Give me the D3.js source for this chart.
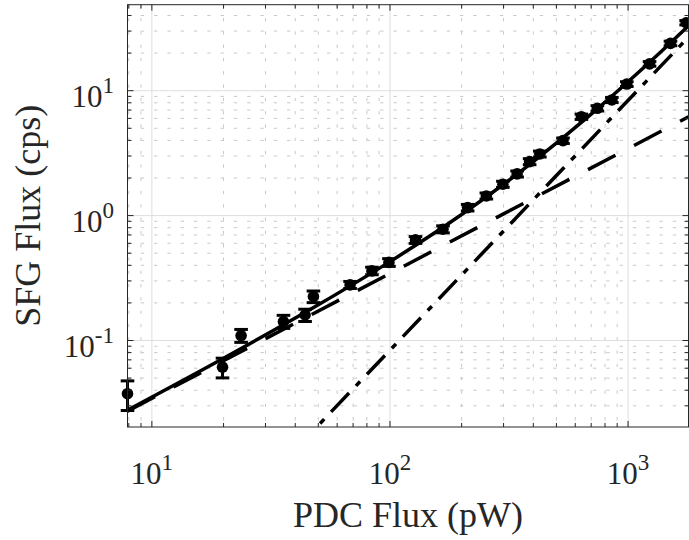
<!DOCTYPE html>
<html>
<head>
<meta charset="utf-8">
<script src="https://cdn.jsdelivr.net/npm/d3@7"></script>
<style>
  html, body { margin: 0; padding: 0; background: #fff; }
  svg { display: block; }
  text { font-family: "Liberation Serif", "Times New Roman", serif; fill: #262626; }
</style>
</head>
<body>
<svg id="chart" width="689" height="540"></svg>
<script>
// ---- data ----
const pdcFlux = [7.9, 19.8, 23.7, 35.7, 44, 47.7, 68, 84, 99, 128, 167, 212, 254, 298, 342, 386, 426, 533, 637, 743, 855, 988, 1231, 1507, 1754];
const sfgFlux = [0.0375, 0.0612, 0.1096, 0.142, 0.160, 0.225, 0.279, 0.361, 0.422, 0.639, 0.778, 1.159, 1.437, 1.783, 2.156, 2.704, 3.115, 3.98, 6.19, 7.23, 8.43, 11.3, 16.4, 23.9, 35.0];
const sfgError = [0.010, 0.011, 0.013, 0.017, 0.018, 0.024, 0.018, 0.025, 0.03, 0.04, 0.05, 0.07, 0.08, 0.10, 0.12, 0.15, 0.17, 0.2, 0.3, 0.35, 0.4, 0.5, 0.7, 1.0, 1.4];

const fitX = [7.9, 20, 50, 100, 200, 400, 700, 1000, 1400, 1794];
const fitY = [0.0277, 0.0721, 0.193, 0.428, 1.02, 2.71, 6.50, 11.8, 21.2, 33.1];
// linear component (long dashes): endpoints
const linX = [7.9, 1794];
const linY = [0.0272, 6.17];
// quadratic component (dash-dot): endpoints
const quadX = [40, 1794];
const quadY = [0.0134, 26.9];

const xTicksMajor = [10, 100, 1000];
const xTickExp = ["1", "2", "3"];
const yTicksMajor = [0.1, 1, 10];
const yTickExp = ["-1", "0", "1"];

const xDomain = [7.9, 1794];
const yDomain = [0.0203, 48.8];

// ---- layout ----
const svg = d3.select("#chart");
const L = 127.5, R = 688.5, T = 4.7, B = 427;
const x = d3.scaleLog().domain(xDomain).range([L, R]);
const y = d3.scaleLog().domain(yDomain).range([B, T]);

function minorTicks(domain) {
  const out = [];
  const lo = Math.floor(Math.log10(domain[0])), hi = Math.ceil(Math.log10(domain[1]));
  for (let e = lo; e <= hi; e++) {
    for (let m = 2; m <= 9; m++) {
      const v = m * Math.pow(10, e);
      if (v >= domain[0] && v <= domain[1]) out.push(v);
    }
  }
  return out;
}
const xMinor = minorTicks(xDomain);
const yMinor = minorTicks(yDomain);

// grid
const grid = svg.append("g");
grid.selectAll(".xmin").data(xMinor).enter().append("line")
  .attr("x1", d => x(d)).attr("x2", d => x(d)).attr("y1", T).attr("y2", B)
  .attr("stroke", "#c8c8c8").attr("stroke-width", 1).attr("stroke-dasharray", "3.3,10");
grid.selectAll(".ymin").data(yMinor).enter().append("line")
  .attr("x1", L).attr("x2", R).attr("y1", d => y(d)).attr("y2", d => y(d))
  .attr("stroke", "#c8c8c8").attr("stroke-width", 1).attr("stroke-dasharray", "3.3,10");
grid.selectAll(".xmaj").data(xTicksMajor).enter().append("line")
  .attr("x1", d => x(d)).attr("x2", d => x(d)).attr("y1", T).attr("y2", B)
  .attr("stroke", "#dedede").attr("stroke-width", 1);
grid.selectAll(".ymaj").data(yTicksMajor).enter().append("line")
  .attr("x1", L).attr("x2", R).attr("y1", d => y(d)).attr("y2", d => y(d))
  .attr("stroke", "#dedede").attr("stroke-width", 1);

// clip
svg.append("clipPath").attr("id", "clip").append("rect")
  .attr("x", L).attr("y", T).attr("width", R - L).attr("height", B - T);

const plot = svg.append("g").attr("clip-path", "url(#clip)");

const lineGen = d3.line().x(d => x(d[0])).y(d => y(d[1]));
const curveGen = d3.line().x(d => x(d[0])).y(d => y(d[1])).curve(d3.curveMonotoneX);

plot.append("path").datum(quadX.map((v, i) => [v, quadY[i]]))
  .attr("d", lineGen).attr("fill", "none").attr("stroke", "#000")
  .attr("stroke-width", 3.5).attr("stroke-dasharray", "26,10,6,10");
plot.append("path").datum(linX.map((v, i) => [v, linY[i]]))
  .attr("d", lineGen).attr("fill", "none").attr("stroke", "#000")
  .attr("stroke-width", 3.5).attr("stroke-dasharray", "31,21");
plot.append("path").datum(fitX.map((v, i) => [v, fitY[i]]))
  .attr("d", curveGen).attr("fill", "none").attr("stroke", "#000")
  .attr("stroke-width", 3.5);

// error bars + markers (not clipped)
const pts = pdcFlux.map((v, i) => ({ x: v, y: sfgFlux[i], e: sfgError[i] }));
const eb = svg.append("g");
const capW = 6.8;
pts.forEach(p => {
  const xp = x(p.x), y1 = y(p.y + p.e), y0 = y(p.y - p.e);
  eb.append("line").attr("x1", xp).attr("x2", xp).attr("y1", y1).attr("y2", y0)
    .attr("stroke", "#000").attr("stroke-width", 3);
  eb.append("line").attr("x1", xp - capW).attr("x2", xp + capW).attr("y1", y1).attr("y2", y1)
    .attr("stroke", "#000").attr("stroke-width", 3);
  eb.append("line").attr("x1", xp - capW).attr("x2", xp + capW).attr("y1", y0).attr("y2", y0)
    .attr("stroke", "#000").attr("stroke-width", 3);
});
svg.append("g").selectAll("circle").data(pts).enter().append("circle")
  .attr("cx", d => x(d.x)).attr("cy", d => y(d.y)).attr("r", 5.8).attr("fill", "#000");

// axes box and ticks
const axc = "#262626";
const axes = svg.append("g");
axes.append("rect").attr("x", L).attr("y", T).attr("width", R - L).attr("height", B - T)
  .attr("fill", "none").attr("stroke", axc).attr("stroke-width", 1);
const majLen = 6, minLen = 4;
function xTick(v, len) {
  axes.append("line").attr("x1", x(v)).attr("x2", x(v)).attr("y1", B).attr("y2", B - len).attr("stroke", axc);
  axes.append("line").attr("x1", x(v)).attr("x2", x(v)).attr("y1", T).attr("y2", T + len).attr("stroke", axc);
}
function yTick(v, len) {
  axes.append("line").attr("x1", L).attr("x2", L + len).attr("y1", y(v)).attr("y2", y(v)).attr("stroke", axc);
  axes.append("line").attr("x1", R).attr("x2", R - len).attr("y1", y(v)).attr("y2", y(v)).attr("stroke", axc);
}
xMinor.forEach(v => xTick(v, minLen));
xTicksMajor.forEach(v => xTick(v, majLen));
yMinor.forEach(v => yTick(v, minLen));
yTicksMajor.forEach(v => yTick(v, majLen));

// tick labels
xTicksMajor.forEach((v, i) => {
  const t = svg.append("text").attr("x", x(v)).attr("y", 484).attr("text-anchor", "middle")
    .style("font-size", "31px");
  t.append("tspan").text("10");
  t.append("tspan").attr("dy", -14.5).style("font-size", "23px").text(xTickExp[i]);
});
yTicksMajor.forEach((v, i) => {
  const t = svg.append("text").attr("x", 114).attr("y", y(v) + 16.6).attr("text-anchor", "end")
    .style("font-size", "31px");
  t.append("tspan").text("10");
  t.append("tspan").attr("dy", -14.5).style("font-size", "23px").text(yTickExp[i]);
});

// axis labels
svg.append("text").attr("x", (L + R) / 2).attr("y", 527).attr("text-anchor", "middle")
  .style("font-size", "36px").text("PDC Flux (pW)");
svg.append("text").attr("transform", `translate(40,${(T + B) / 2}) rotate(-90)`)
  .attr("text-anchor", "middle").style("font-size", "36px").text("SFG Flux (cps)");
</script>
</body>
</html>
